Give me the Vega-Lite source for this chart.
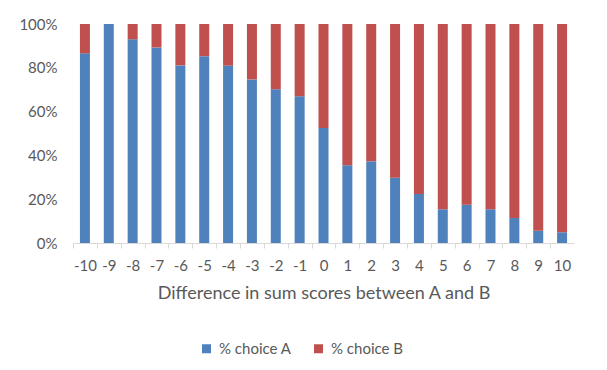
{
  "$schema": "https://vega.github.io/schema/vega-lite/v6.json",
  "width": 501,
  "height": 219,
  "autosize": {"type": "none"},
  "padding": {"left": 73, "top": 24, "right": 33, "bottom": 127},
  "background": "white",
  "config": {
    "view": {"stroke": null},
    "font": "Lato",
    "axis": {"labelColor": "#595959", "titleColor": "#595959", "labelFont": "Lato", "titleFont": "Lato"},
    "legend": {"labelFont": "Lato"}
  },
  "data": {
    "values": [
      {"diff": -10, "series": "% choice A", "value": 0.866}, {"diff": -10, "series": "% choice B", "value": 0.134},
      {"diff": -9, "series": "% choice A", "value": 1.0}, {"diff": -9, "series": "% choice B", "value": 0.0},
      {"diff": -8, "series": "% choice A", "value": 0.93}, {"diff": -8, "series": "% choice B", "value": 0.07},
      {"diff": -7, "series": "% choice A", "value": 0.893}, {"diff": -7, "series": "% choice B", "value": 0.107},
      {"diff": -6, "series": "% choice A", "value": 0.811}, {"diff": -6, "series": "% choice B", "value": 0.189},
      {"diff": -5, "series": "% choice A", "value": 0.853}, {"diff": -5, "series": "% choice B", "value": 0.147},
      {"diff": -4, "series": "% choice A", "value": 0.81}, {"diff": -4, "series": "% choice B", "value": 0.19},
      {"diff": -3, "series": "% choice A", "value": 0.747}, {"diff": -3, "series": "% choice B", "value": 0.253},
      {"diff": -2, "series": "% choice A", "value": 0.702}, {"diff": -2, "series": "% choice B", "value": 0.298},
      {"diff": -1, "series": "% choice A", "value": 0.67}, {"diff": -1, "series": "% choice B", "value": 0.33},
      {"diff": 0, "series": "% choice A", "value": 0.525}, {"diff": 0, "series": "% choice B", "value": 0.475},
      {"diff": 1, "series": "% choice A", "value": 0.355}, {"diff": 1, "series": "% choice B", "value": 0.645},
      {"diff": 2, "series": "% choice A", "value": 0.373}, {"diff": 2, "series": "% choice B", "value": 0.627},
      {"diff": 3, "series": "% choice A", "value": 0.298}, {"diff": 3, "series": "% choice B", "value": 0.702},
      {"diff": 4, "series": "% choice A", "value": 0.224}, {"diff": 4, "series": "% choice B", "value": 0.776},
      {"diff": 5, "series": "% choice A", "value": 0.154}, {"diff": 5, "series": "% choice B", "value": 0.846},
      {"diff": 6, "series": "% choice A", "value": 0.175}, {"diff": 6, "series": "% choice B", "value": 0.825},
      {"diff": 7, "series": "% choice A", "value": 0.154}, {"diff": 7, "series": "% choice B", "value": 0.846},
      {"diff": 8, "series": "% choice A", "value": 0.114}, {"diff": 8, "series": "% choice B", "value": 0.886},
      {"diff": 9, "series": "% choice A", "value": 0.056}, {"diff": 9, "series": "% choice B", "value": 0.944},
      {"diff": 10, "series": "% choice A", "value": 0.049}, {"diff": 10, "series": "% choice B", "value": 0.951}
    ]
  },
  "mark": {"type": "bar", "size": 10},
  "encoding": {
    "x": {
      "field": "diff", "type": "ordinal", "sort": null,
      "scale": {"paddingInner": 0.58, "paddingOuter": 0.29},
      "axis": {
        "title": "Difference in sum scores between A and B",
        "titleFontSize": 18, "titleFontWeight": "normal", "titlePadding": 11,
        "labelAngle": 0, "labelFontSize": 15, "labelPadding": 10,
        "domainColor": "#d9d9d9", "tickColor": "#d9d9d9", "tickSize": 5,
        "tickOffset": -11.93, "labelOffset": 11.93
      }
    },
    "y": {
      "field": "value", "type": "quantitative", "stack": "zero",
      "scale": {"domain": [0, 1]},
      "axis": {
        "title": null, "format": ".0%", "values": [0, 0.2, 0.4, 0.6, 0.8, 1],
        "labelFontSize": 15, "labelPadding": 16, "domain": false, "ticks": false, "grid": false
      }
    },
    "color": {
      "field": "series", "type": "nominal",
      "scale": {"domain": ["% choice A", "% choice B"], "range": ["#4F81BD", "#C0504D"]},
      "legend": {
        "orient": "none", "direction": "horizontal", "legendX": 126, "legendY": 317,
        "title": null, "symbolType": "square", "symbolSize": 81, "symbolStrokeWidth": 0,
        "labelFontSize": 15, "labelColor": "#595959", "columnPadding": 19, "labelOffset": 5
      }
    },
    "order": {"field": "series", "sort": "ascending"}
  }
}
